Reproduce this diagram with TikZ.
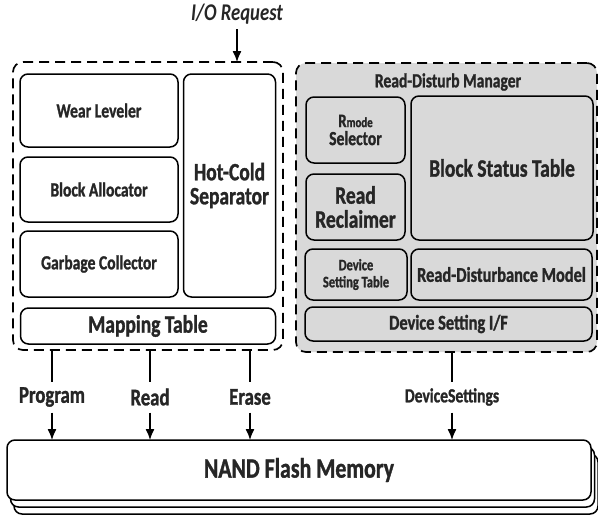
\documentclass[tikz,border=0pt]{standalone}
\usepackage{fontspec}
\setmainfont{Carlito}[FakeStretch=0.78,BoldFeatures={FakeBold=1.2}]
\usetikzlibrary{arrows.meta}
\definecolor{txt}{HTML}{262626}
\definecolor{panel}{HTML}{D9D9D9}
\begin{document}
\begin{tikzpicture}[x=1pt,y=-1pt,
  box/.style={draw=black,line width=1.5pt,rounded corners=8pt,inner sep=0pt,outer sep=0pt,align=center,text=txt,font=\bfseries\fontsize{20}{21}\selectfont},
  big/.style={font=\bfseries\fontsize{25}{26}\selectfont},
  dashbox/.style={draw=black,line width=1.7pt,dash pattern=on 10pt off 6pt,rounded corners=10pt,inner sep=0pt,outer sep=0pt},
  lbl/.style={inner sep=0pt,outer sep=0pt,text=txt,minimum height=31pt,font=\bfseries\fontsize{24}{25}\selectfont},
  arr/.style={line width=1.3pt,-{Latex[length=11pt,width=9pt]}},
  ln/.style={line width=1.3pt}]
\useasboundingbox (0,0) rectangle (598,520);
% left dashed container
\node[dashbox,minimum width=270,minimum height=288] (lbox) at (148,206) {};
\node[box,minimum width=158,minimum height=73] (wl) at (99,110.5) {Wear Leveler};
\node[box,minimum width=158,minimum height=65] (ba) at (99,189.5) {Block Allocator};
\node[box,minimum width=158,minimum height=66] (gc) at (99,264) {Garbage Collector};
\node[box,big,minimum width=92,minimum height=223] (hc) at (229.5,185.5) {Hot-Cold\\[-2pt]Separator};
\node[box,big,minimum width=255,minimum height=36] (mt) at (148,326) {Mapping Table};
% right panel
\node[dashbox,fill=panel,minimum width=301,minimum height=289] (rbox) at (446.5,207.5) {};
\node[inner sep=0pt,text=txt,font=\bfseries\fontsize{20}{21}\selectfont] (rdmgr) at (448,82) {Read-Disturb Manager};
\node[box,minimum width=99,minimum height=66] (rs) at (355.5,130) {{\fontsize{19}{19}\selectfont R}{\fontsize{14}{14}\selectfont mode}\\[-3pt]Selector};
\node[box,big,minimum width=99,minimum height=66] (rr) at (355.5,207) {Read\\[-2pt]Reclaimer};
\node[box,big,minimum width=182,minimum height=144] (bst) at (502,168) {Block Status Table};
\node[box,minimum width=102,minimum height=51,font=\bfseries\fontsize{16}{17}\selectfont] (dst) at (356,274.5) {Device\\Setting Table};
\node[box,minimum width=181,minimum height=51,font=\bfseries\fontsize{21}{22}\selectfont] (rdm) at (501.5,274.5) {Read-Disturbance Model};
\node[box,minimum width=287,minimum height=34,font=\bfseries\fontsize{21}{22}\selectfont] (dsif) at (448.5,324) {Device Setting I/F};
% NAND stacked
\draw[line width=1.5pt,rounded corners=8pt,fill=white] (14,454) rectangle (598,514);
\draw[line width=1.5pt,rounded corners=8pt,fill=white] (10.5,447) rectangle (594.5,507);
\node[box,fill=white,minimum width=584,minimum height=60,font=\bfseries\fontsize{28}{29}\selectfont] (nand) at (299,470) {NAND Flash Memory};
% I/O request
\node[inner sep=0pt,text=txt,font=\bfseries\itshape\fontsize{24}{25}\selectfont] (io) at (237,14) {I/O Request};
\draw[arr] (237,29) -- (io.south |- lbox.north);
% labels
\node[lbl] (prog) at (52,397) {Program};
\node[lbl] (rd) at (150,397) {Read};
\node[lbl] (er) at (250,397) {Erase};
\node[lbl,font=\bfseries\fontsize{20}{21}\selectfont] (ds) at (452,397) {DeviceSettings};
\foreach \n in {prog,rd,er}{
  \draw[ln] (lbox.south -| \n) -- (\n.north);
  \draw[arr] (\n.south) -- (\n.south |- nand.north);
}
\draw[ln] (rbox.south -| ds) -- (ds.north);
\draw[arr] (ds.south) -- (ds.south |- nand.north);
\end{tikzpicture}
\end{document}
